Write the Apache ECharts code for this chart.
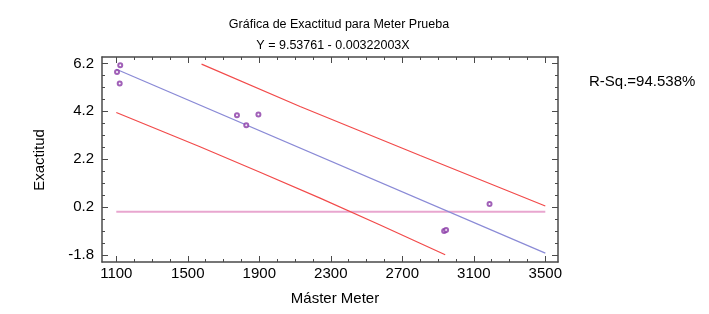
<!DOCTYPE html>
<html>
<head>
<meta charset="utf-8">
<script src="https://cdn.jsdelivr.net/npm/echarts@6/dist/echarts.min.js"></script>
<style>
  html, body { margin: 0; padding: 0; background: #fff; }
  #main { width: 709px; height: 314px; }
</style>
</head>
<body>
<div id="main"></div>
<script>
// observed points (Máster Meter, Exactitud)
var obsX = [1104, 1119, 1122, 1775, 1827, 1895, 2934, 2945, 3188];
var obsY = [5.84, 5.36, 6.12, 4.04, 3.62, 4.07, -0.80, -0.76, 0.32];

// fitted line Y = 9.53761 - 0.00322003X, read at its ends
var fitX = [1100, 3500];
var fitY = [5.96, -1.73];

// prediction limits
var upperX = [1577, 2128, 2800, 3500];
var upperY = [6.17, 4.40, 2.35, 0.24];
var lowerX = [1100, 1568, 1904, 2240, 2576, 2940];
var lowerY = [4.15, 2.72, 1.65, 0.57, -0.55, -1.80];

// reference line at zero
var zeroX = [1100, 3500];
var zeroY = [0, 0];

// ticks
var xMajor = [1100, 1500, 1900, 2300, 2700, 3100, 3500];
var xMinor = [1100, 1200, 1300, 1400, 1500, 1600, 1700, 1800, 1900, 2000, 2100, 2200, 2300,
              2400, 2500, 2600, 2700, 2800, 2900, 3000, 3100, 3200, 3300, 3400, 3500];
var yMajor = [-1.8, 0.2, 2.2, 4.2, 6.2];
var yMinor = [-1.8, -1.3, -0.8, -0.3, 0.2, 0.7, 1.2, 1.7, 2.2, 2.7, 3.2, 3.7, 4.2, 4.7, 5.2, 5.7, 6.2];

function pairs (xs, ys) {
  return xs.map(function (x, i) { return [x, ys[i]] })
}

var frameColor = '#4a4a4a'
var fontFam = 'Liberation Sans, Arial, sans-serif'

function xAx (pos, ticks, len, showLine, showLabel) {
  return {
    type: 'value', position: pos, min: 1020, max: 3571,
    axisLine: { show: showLine, onZero: false, lineStyle: { color: frameColor, width: 1.5 } },
    axisTick: { show: true, inside: true, length: len, customValues: ticks, lineStyle: { color: frameColor } },
    axisLabel: { show: showLabel, customValues: xMajor, color: '#000', fontSize: 15, fontFamily: fontFam, margin: 4,
      formatter: function (v) { return String(v) } },
    splitLine: { show: false }
  }
}
function yAx (pos, ticks, len, showLine, showLabel) {
  return {
    type: 'value', position: pos, min: -2.1, max: 6.47,
    axisLine: { show: showLine, onZero: false, lineStyle: { color: frameColor, width: 1.5 } },
    axisTick: { show: true, inside: true, length: len, customValues: ticks, lineStyle: { color: frameColor } },
    axisLabel: { show: showLabel, customValues: yMajor, color: '#000', fontSize: 15, fontFamily: fontFam, margin: 8,
      formatter: function (v) { return v.toFixed(1) } },
    splitLine: { show: false }
  }
}

var chart = echarts.init(document.getElementById('main'))
chart.setOption({
  backgroundColor: '#fff',
  animation: false,
  title: [
    { text: 'Gráfica de Exactitud para Meter Prueba', left: 334, top: 13, textAlign: 'center',
      textStyle: { fontSize: 12.5, fontWeight: 'normal', color: '#000', fontFamily: fontFam } },
    { text: 'Y = 9.53761 - 0.00322003X', left: 328, top: 34, textAlign: 'center',
      textStyle: { fontSize: 12.5, fontWeight: 'normal', color: '#000', fontFamily: fontFam } },
    { text: 'R-Sq.=94.538%', left: 584, top: 69,
      textStyle: { fontSize: 15, fontWeight: 'normal', color: '#000', fontFamily: fontFam } },
    { text: 'Máster Meter', left: 330, top: 286, textAlign: 'center',
      textStyle: { fontSize: 15, fontWeight: 'normal', color: '#000', fontFamily: fontFam } }
  ],
  graphic: [
    { type: 'text', x: 40, y: 160, rotation: Math.PI / 2,
      style: { text: 'Exactitud', fontSize: 15, fontFamily: fontFam, fill: '#000',
        textAlign: 'center', textVerticalAlign: 'middle' } }
  ],
  grid: { left: 102, right: 151, top: 57, bottom: 52 },
  xAxis: [
    xAx('bottom', xMajor, 6, true, true),
    xAx('bottom', xMinor, 3, false, false),
    xAx('top', xMajor, 6, true, false),
    xAx('top', xMinor, 3, false, false)
  ],
  yAxis: [
    yAx('left', yMajor, 6, true, true),
    yAx('left', yMinor, 3, false, false),
    yAx('right', yMajor, 6, true, false),
    yAx('right', yMinor, 3, false, false)
  ],
  series: [
    { type: 'line', data: pairs(zeroX, zeroY), symbol: 'none', lineStyle: { color: '#e8a6cf', width: 2 } },
    { type: 'line', data: pairs(upperX, upperY), symbol: 'none', lineStyle: { color: '#f24a4a', width: 1.2 } },
    { type: 'line', data: pairs(lowerX, lowerY), symbol: 'none', lineStyle: { color: '#f24a4a', width: 1.2 } },
    { type: 'line', data: pairs(fitX, fitY), symbol: 'none', lineStyle: { color: '#8a8ad6', width: 1.2 } },
    { type: 'scatter', data: pairs(obsX, obsY), symbol: 'emptyCircle', symbolSize: 4, z: 5,
      itemStyle: { color: '#8a3aa6', borderColor: '#8a3aa6', borderWidth: 1.2 } }
  ]
})
</script>
</body>
</html>
